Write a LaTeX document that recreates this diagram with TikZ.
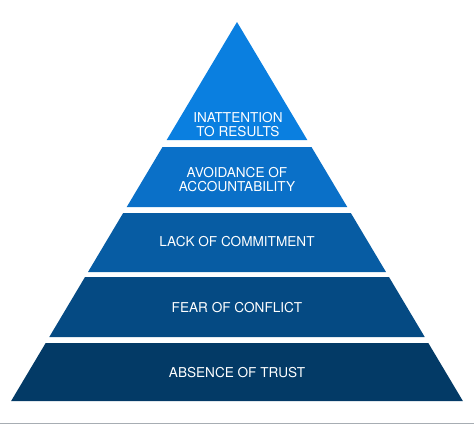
\documentclass[tikz,border=0pt]{standalone}
\usepackage{fontspec}
\setmainfont{TeX Gyre Heros}
\definecolor{tierone}{HTML}{0A7FE0}
\definecolor{tiertwo}{HTML}{0A70C8}
\definecolor{tierthree}{HTML}{075CA3}
\definecolor{tierfour}{HTML}{054A83}
\definecolor{tierfive}{HTML}{033A66}
\definecolor{baseline}{HTML}{A7ADB3}
\newcommand{\tierslope}{0.596}
\tikzset{tierlabel/.style={text=white, inner sep=0pt, align=center, font=\fontsize{13.6}{13.4}\selectfont}}
\tikzset{floorline/.style={draw=baseline, line width=1pt}}

\begin{document}
\begin{tikzpicture}[x=1pt,y=-1pt]
\useasboundingbox (0,0) rectangle (474,424);

% apex tier
\fill[tierone] (237,22) -- ({237-\tierslope*118},140) -- ({237+\tierslope*118},140) -- cycle;

% lower tiers, cut from the same triangle
\foreach \ytop/\ybot/\col in {147/207/tiertwo, 213/272/tierthree, 277/337/tierfour, 343/401/tierfive}{
  \pgfmathsetmacro{\wtop}{\tierslope*(\ytop-22)}
  \pgfmathsetmacro{\wbot}{\tierslope*(\ybot-22)}
  \fill[\col] ({237-\wtop},\ytop) -- ({237+\wtop},\ytop) -- ({237+\wbot},\ybot) -- ({237-\wbot},\ybot) -- cycle;
}

\node[tierlabel] (results) at (238,124.5) {INATTENTION\\TO RESULTS};
\node[tierlabel] (accountability) at (237,179.5) {AVOIDANCE OF\\ACCOUNTABILITY};
\node[tierlabel] (commitment) at (237,242) {LACK OF COMMITMENT};
\node[tierlabel] (conflict) at (237,307.5) {FEAR OF CONFLICT};
\node[tierlabel] (trust) at (237,372.5) {ABSENCE OF TRUST};

\draw[floorline] (0,423) -- (474,423);

\end{tikzpicture}
\end{document}
